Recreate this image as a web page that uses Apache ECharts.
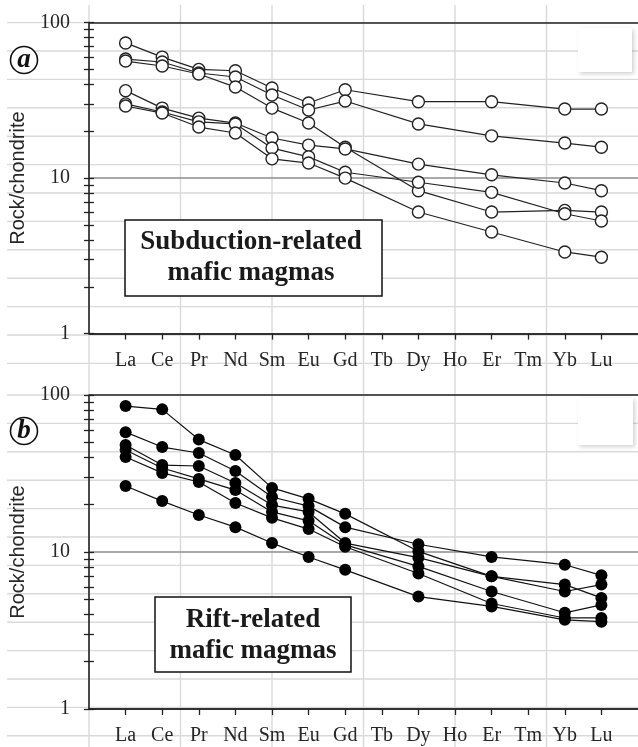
<!DOCTYPE html>
<html>
<head>
<meta charset="utf-8">
<script src="https://cdn.jsdelivr.net/npm/echarts@6/dist/echarts.min.js"></script>
<style>
html, body { margin: 0; padding: 0; background: #fff; }
#chart { width: 638px; height: 747px; }
</style>
</head>
<body>
<div id="chart"></div>
<script>
// REE on the x axis, position 1..14
var elements = ["La", "Ce", "Pr", "Nd", "Sm", "Eu", "Gd", "Tb", "Dy", "Ho", "Er", "Tm", "Yb", "Lu"];
var minorTicks = [1, 2, 3, 4, 5, 6, 7, 8, 9, 10, 20, 30, 40, 50, 60, 70, 80, 90, 100];

// (a) subduction-related mafic magmas
var subA = [74, 60, 50, 49, 38, 30.4, 37, null, 31, null, 31, null, 27.8, 27.8];
var subB = [58.3, 55.8, 47.4, 44.7, 34.2, 27.4, 31.3, null, 22.3, null, 18.7, null, 16.8, 15.8];
var subC = [56.6, 52.6, 46.7, 38.5, 28.2, 22.6, 15.8, null, 8.3, null, 6.05, null, 6.2, 6.05];
var subD = [36.5, 28.2, 24.3, 22.6, 18.1, 16.3, 15.4, null, 12.3, null, 10.5, null, 9.3, 8.3];
var subE = [30, 26.6, 23, 22.3, 15.6, 13.7, 10.9, null, 9.4, null, 8.1, null, 5.9, 5.3];
var subF = [29.1, 26.2, 21.3, 19.5, 13.3, 12.5, 10, null, 6.05, null, 4.5, null, 3.35, 3.1];

// (b) rift-related mafic magmas
var riftA = [85, 81, 52, 41.5, 25.6, 21.8, 17.5, null, 10.1, null, 7.0, null, 6.2, 5.1];
var riftB = [58, 46.6, 42.7, 32.8, 22.4, 19.6, 14.4, null, 11.2, null, 9.3, null, 8.3, 7.1];
var riftC = [48, 35.8, 35.3, 27.5, 19.9, 18, 11.4, null, 9.2, null, 7.0, null, 5.6, 6.2];
var riftD = [44.6, 34.3, 29.2, 24.8, 18, 15.8, 11.1, null, 8.1, null, 5.6, null, 4.1, 4.6];
var riftE = [40.3, 31.9, 27.9, 20.5, 16.5, 14, 10.8, null, 7.3, null, 4.7, null, 3.8, 3.8];
var riftF = [26.3, 21.1, 17.2, 14.4, 11.4, 9.3, 7.7, null, 5.2, null, 4.5, null, 3.7, 3.6];

var subSeries = [subA, subB, subC, subD, subE, subF];
var riftSeries = [riftA, riftB, riftC, riftD, riftE, riftF];

var serif = "'Liberation Serif', 'DejaVu Serif', serif";
var sans = "'Liberation Sans', Arial, sans-serif";

function toPoints(arr) {
  var out = [];
  arr.forEach(function (v, i) {
    if (v != null) out.push([i + 1, v]);
  });
  return out;
}

function xAxisFor(gi) {
  return {
    type: "value", gridIndex: gi, min: 0, max: 15,
    axisLine: { show: true, lineStyle: { color: "#222", width: 1.6 } },
    axisTick: { show: true, customValues: elements.map(function (e, i) { return i + 1; }),
      length: 6, lineStyle: { color: "#222", width: 1.3 } },
    axisLabel: { show: true, customValues: elements.map(function (e, i) { return i + 1; }),
      formatter: function (v) { return elements[v - 1]; },
      margin: 17, fontFamily: serif, fontSize: 20, color: "#262626" },
    splitLine: { show: false }
  };
}

function yAxesFor(gi) {
  return [
    {
      type: "log", logBase: 10, gridIndex: gi, min: 1, max: 100, position: "left",
      name: "Rock/chondrite", nameLocation: "middle", nameRotate: 90, nameGap: 61,
      nameTextStyle: { fontFamily: sans, fontSize: 20, color: "#262626" },
      axisLine: { show: true, lineStyle: { color: "#222", width: 1.6 } },
      axisTick: { show: false },
      axisLabel: { margin: 19, fontFamily: serif, fontSize: 20, color: "#262626",
        formatter: function (v) { return String(Math.round(v)); } },
      splitLine: { show: true, lineStyle: { color: ["#333", "#8c8c8c", "#222"], width: [1.5] } }
    },
    {
      type: "log", logBase: 10, gridIndex: gi, min: 1, max: 100, position: "left", offset: 0,
      axisLine: { show: false }, axisLabel: { show: false }, splitLine: { show: false },
      axisTick: { show: true, customValues: minorTicks, length: 5, lineStyle: { color: "#222", width: 1.3 } }
    },
    {
      type: "log", logBase: 10, gridIndex: gi, min: 1, max: 100, position: "left", offset: 0,
      axisLine: { show: false }, axisLabel: { show: false }, splitLine: { show: false },
      axisTick: { show: true, inside: true, customValues: minorTicks, length: 5, lineStyle: { color: "#222", width: 1.3 } }
    }
  ];
}

var series = [];
subSeries.forEach(function (arr) {
  series.push({
    type: "line", xAxisIndex: 0, yAxisIndex: 0, data: toPoints(arr),
    symbol: "circle", symbolSize: 12, showAllSymbol: true,
    lineStyle: { color: "#222", width: 1.2 },
    itemStyle: { color: "#fff", borderColor: "#222", borderWidth: 1.4 }
  });
});
riftSeries.forEach(function (arr) {
  series.push({
    type: "line", xAxisIndex: 1, yAxisIndex: 3, data: toPoints(arr),
    symbol: "circle", symbolSize: 12, showAllSymbol: true,
    lineStyle: { color: "#111", width: 1.2 },
    itemStyle: { color: "#000" }
  });
});

// spreadsheet cell lines behind the charts
var graphics = [];
var colX = [89, 180.5, 272, 363.5, 455, 546.5];
colX.forEach(function (x) {
  graphics.push({ type: "line", z: -10, shape: { x1: x, y1: 5, x2: x, y2: 747 },
    style: { stroke: "#d9d9d9", lineWidth: 1.4 } });
});
for (var k = 0; k < 13; k++) {
  var ya = 22.6 + 28.4 * k;
  graphics.push({ type: "line", z: -10, shape: { x1: 7, y1: ya, x2: 638, y2: ya },
    style: { stroke: "#d9d9d9", lineWidth: 1.4 } });
  var yb = 395 + 28.4 * k;
  graphics.push({ type: "line", z: -10, shape: { x1: 7, y1: yb, x2: 638, y2: yb },
    style: { stroke: "#d9d9d9", lineWidth: 1.4 } });
}
// leftover legend boxes
[[578, 28, 54, 44], [578, 398, 55, 47]].forEach(function (r) {
  graphics.push({ type: "rect", z: 5, shape: { x: r[0], y: r[1], width: r[2], height: r[3] },
    style: { fill: "#fff", shadowBlur: 4, shadowOffsetX: 2, shadowOffsetY: 2, shadowColor: "rgba(0,0,0,0.18)" } });
});
// panel letters
[["a", 24, 60], ["b", 24, 431]].forEach(function (p) {
  graphics.push({ type: "circle", z: 20, shape: { cx: p[1], cy: p[2], r: 13.5 },
    style: { fill: "#fff", stroke: "#111", lineWidth: 1.6 } });
  graphics.push({ type: "text", z: 21, x: p[1], y: p[2],
    style: { text: p[0], fontFamily: serif, fontSize: 27, fontWeight: "bold", fontStyle: "italic",
      fill: "#111", align: "center", verticalAlign: "middle" } });
});
// captions
[[125, 220, 257, 76, "Subduction-related\nmafic magmas", 251, 258],
 [155, 597, 196, 75, "Rift-related\nmafic magmas", 253, 636]].forEach(function (b) {
  graphics.push({ type: "rect", z: 20, shape: { x: b[0], y: b[1], width: b[2], height: b[3] },
    style: { fill: "#fff", stroke: "#111", lineWidth: 1.5 } });
  graphics.push({ type: "text", z: 21, x: b[5], y: b[6],
    style: { text: b[4], fontFamily: serif, fontSize: 27, fontWeight: "bold", lineHeight: 31,
      fill: "#1a1a1a", align: "center", verticalAlign: "middle" } });
});

var chart = echarts.init(document.getElementById("chart"), null, { renderer: "canvas" });
chart.setOption({
  backgroundColor: "#fff",
  animation: false,
  grid: [
    { left: 89, top: 22.6, right: 0, height: 311, outerBoundsMode: "none" },
    { left: 89, top: 395, right: 0, height: 314, outerBoundsMode: "none" }
  ],
  xAxis: [xAxisFor(0), xAxisFor(1)],
  yAxis: yAxesFor(0).concat(yAxesFor(1)),
  series: series,
  graphic: { elements: graphics }
});
</script>
</body>
</html>
